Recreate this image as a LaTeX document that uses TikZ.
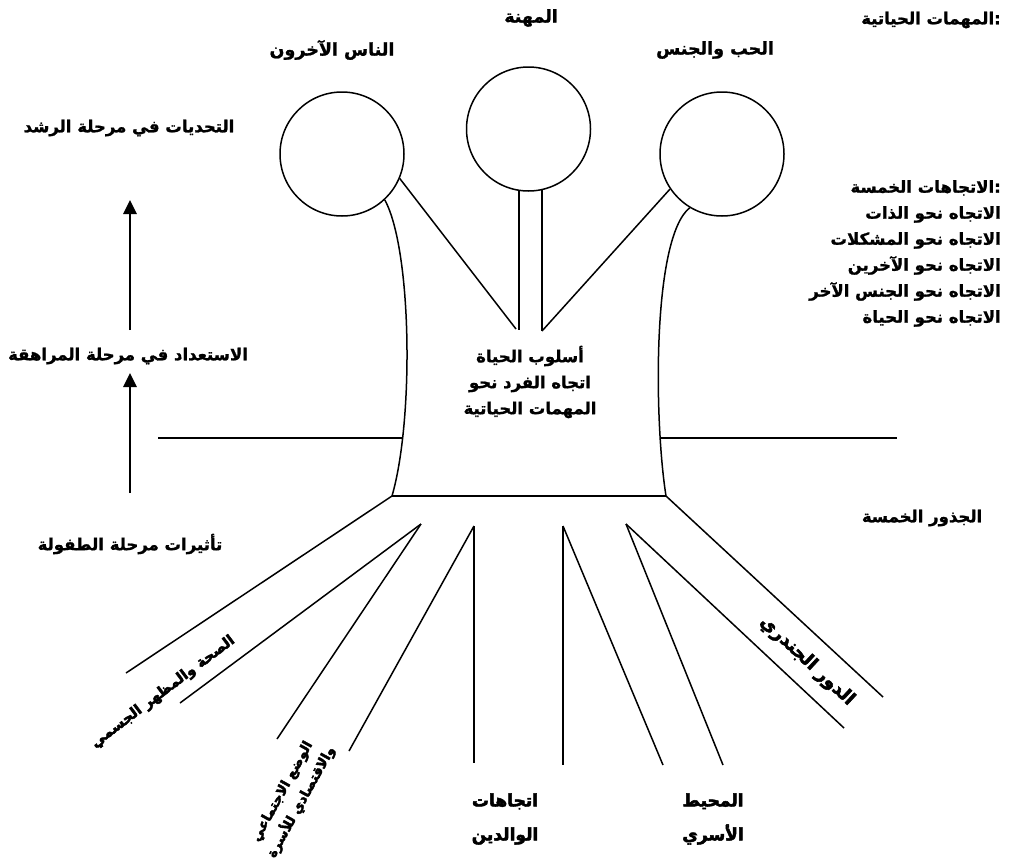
\documentclass[tikz,border=0pt]{standalone}
\usepackage{fontspec}
\usetikzlibrary{arrows.meta}
\TeXXeTstate=1
\newfontfamily\arfont[Script=Arabic, BoldFeatures={FakeBold=1.2}]{DejaVu Sans}
\newfontfamily\arheavy[Script=Arabic, BoldFeatures={FakeBold=3}]{DejaVu Sans}
\newcommand\artx[1]{\beginR #1\endR}
\begin{document}
\begin{tikzpicture}[x=1pt,y=-1pt,
  ln/.style={line width=1.5pt},
  txt/.style={font=\arfont\bfseries\fontsize{16.5}{26}\selectfont, inner sep=0pt},
  head/.style={font=\arfont\bfseries\fontsize{17.5}{20}\selectfont, inner sep=0pt},
  big/.style={font=\arheavy\bfseries\fontsize{17}{20}\selectfont, inner sep=0pt},
  ring/.style={circle, draw, line width=1.5pt, minimum size=124pt, inner sep=0pt},
  uparrow/.style={line width=2.6pt, -{Triangle[width=13pt,length=14pt]}}]
\useasboundingbox (0,0) rectangle (1012,860);

% circles
\node[ring] (cL) at (342,154) {};
\node[ring] (cM) at (528.5,129) {};
\node[ring] (cR) at (722,154) {};

% key points
\coordinate (BL) at (392,496);
\coordinate (BR) at (666,496);
\coordinate (A1) at (421,524);
\coordinate (A2) at (474,526);
\coordinate (A3) at (563,526);
\coordinate (A4) at (626,524);
\coordinate (E1) at (126,673);
\coordinate (E2) at (180,703);
\coordinate (E3) at (277,739);
\coordinate (E4) at (349,751);
\coordinate (E5) at (474,763);
\coordinate (E6) at (563,765);
\coordinate (E7) at (663,765);
\coordinate (E8) at (723,765);
\coordinate (E9) at (844,728);
\coordinate (E10) at (883,697);
\coordinate (D1) at (516,329);
\coordinate (V1) at (519,330);
\coordinate (V2) at (542,331);
\coordinate (HL1) at (158,438);
\coordinate (HL2) at (403,438);
\coordinate (HR1) at (661,438);
\coordinate (HR2) at (897,438);

% trunk
\draw[ln] (cL.-47) .. controls (412,250) and (414,420) .. (BL);
\draw[ln] (cR.-121) .. controls (652,238) and (654,420) .. (BR);
\draw[ln] (BL) -- (BR);
\draw[ln] (cL.-23) -- (D1);
\draw[ln] (V1 |- cM.-99) -- (V1);
\draw[ln] (V2 |- cM.-77) -- (V2);
\draw[ln] (cR.-146) -- (V2);
\draw[ln] (HL1) -- (HL2);
\draw[ln] (HR1) -- (HR2);

% roots
\draw[ln] (BL) -- (E1);
\draw[ln] (A1) -- (E2);
\draw[ln] (A1) -- (E3);
\draw[ln] (A2) -- (E4);
\draw[ln] (A2) -- (E5);
\draw[ln] (A3) -- (E6);
\draw[ln] (A3) -- (E7);
\draw[ln] (A4) -- (E8);
\draw[ln] (A4) -- (E9);
\draw[ln] (BR) -- (E10);

% top labels
\node[head] (tM) at (531,18) {\artx{المهنة}};
\node[head] (tL) at (332,50) {\artx{الناس الآخرون}};
\node[head] (tR) at (715,50) {\artx{الحب والجنس}};
\node[txt, anchor=east] (tT) at (1001,20) {\artx{المهمات الحياتية}:};

% right list
\node[txt, anchor=north east, align=right] (list) at (1001,180)
  {\artx{الاتجاهات الخمسة}:\\
   \artx{الاتجاه نحو الذات}\\
   \artx{الاتجاه نحو المشكلات}\\
   \artx{الاتجاه نحو الآخرين}\\
   \artx{الاتجاه نحو الجنس الآخر}\\
   \artx{الاتجاه نحو الحياة}};

% centre text
\node[txt, align=center] (mid) at (530,382)
  {\artx{أسلوب الحياة}\\ \artx{اتجاه الفرد نحو}\\ \artx{المهمات الحياتية}};

% left stages
\node[txt] (s3) at (129,128) {\artx{التحديات في مرحلة الرشد}};
\node[txt] (s2) at (128,356) {\artx{الاستعداد في مرحلة المراهقة}};
\node[txt] (s1) at (130,544) {\artx{تأثيرات مرحلة الطفولة}};
\coordinate (a1s) at (130,493);
\coordinate (a1e) at (130,373);
\coordinate (a2s) at (130,330);
\coordinate (a2e) at (130,200);
\draw[uparrow] (a1s) -- (a1e);
\draw[uparrow] (a2s) -- (a2e);

% roots title
\node[txt] (roots) at (922,518) {\artx{الجذور الخمسة}};

% root labels
\node[font=\arheavy\bfseries\fontsize{14.5}{17}\selectfont, inner sep=0pt,
      rotate=37] (r1) at (163,692) {\artx{الصحة والمظهر الجسمي}};
\node[font=\arheavy\bfseries\fontsize{13.5}{16}\selectfont, inner sep=0pt,
      rotate=61, align=center] (r2) at (292,797)
  {\artx{الوضع الاجتماعي}\\[5pt] \artx{والاقتصادي للأسرة}};
\node[big, align=center] (r3) at (505,819) {\artx{اتجاهات}\\[14pt] \artx{الوالدين}};
\node[big, align=center] (r4) at (713,819) {\artx{المحيط}\\[14pt] \artx{الأسري}};
\node[font=\arheavy\bfseries\fontsize{18}{21}\selectfont, inner sep=0pt,
      rotate=-43] (r5) at (807,661) {\artx{الدور الجندري}};
\end{tikzpicture}
\end{document}
